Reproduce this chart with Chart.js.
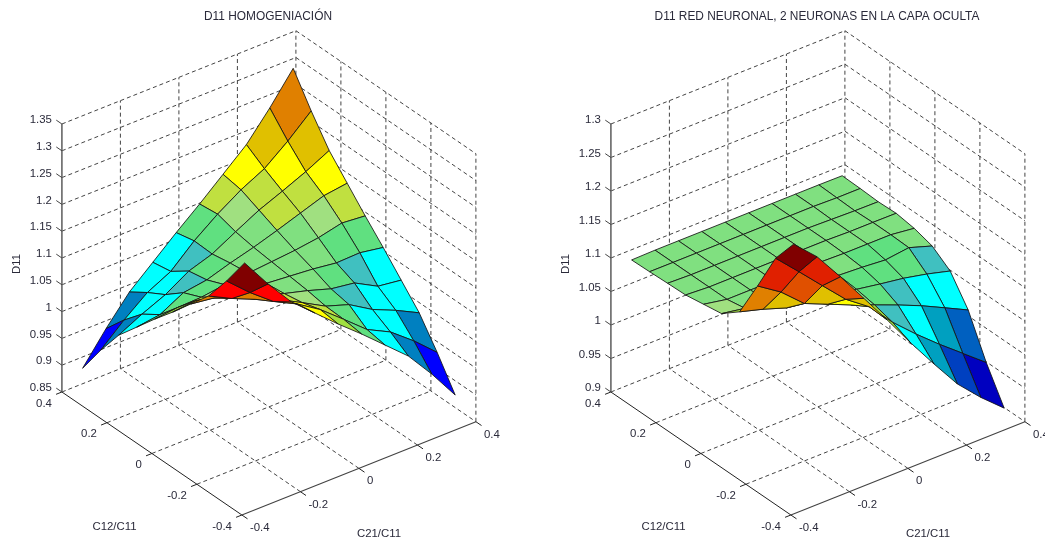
<!DOCTYPE html>
<html><head><meta charset="utf-8">
<style>html,body{margin:0;padding:0;background:#fff;overflow:hidden}
#a,#b{position:absolute;top:0}#a{left:0}#b{left:522px}</style>
<script src="https://cdn.jsdelivr.net/npm/chart.js@4"></script></head>
<body><canvas id="a" width="522" height="544"></canvas><canvas id="b" width="523" height="544"></canvas>
<script>
const gridC21=[-0.36,-0.28,-0.2,-0.12,-0.04,0.04,0.12,0.2,0.28,0.36];
const gridC12=[-0.36,-0.28,-0.2,-0.12,-0.04,0.04,0.12,0.2,0.28,0.36];
// rows: C12 ascending, columns: C21 ascending
const homogeneizacion=[
[1.300,1.2435,1.1925,1.1545,1.1165,1.0805,1.0425,1.0045,0.9535,0.897],
[1.2435,1.2045,1.1705,1.1485,1.1205,1.085,1.0485,1.0265,0.9925,0.9535],
[1.1925,1.1705,1.1515,1.1335,1.1105,1.0865,1.072,1.0455,1.0265,1.0045],
[1.1545,1.1485,1.1335,1.1185,1.1045,1.0925,1.0785,1.072,1.0485,1.0425],
[1.1165,1.1205,1.1105,1.1045,1.1005,1.0965,1.0925,1.0865,1.088,1.0805],
[1.0805,1.085,1.0865,1.0925,1.0965,1.1005,1.1045,1.1105,1.1205,1.1165],
[1.0425,1.0485,1.072,1.0785,1.0925,1.1045,1.1185,1.1335,1.1485,1.1545],
[1.0045,1.0265,1.0455,1.072,1.0865,1.1105,1.1335,1.1515,1.1705,1.1925],
[0.9535,0.9925,1.0265,1.0485,1.088,1.1205,1.1485,1.1705,1.2045,1.2435],
[0.897,0.9535,1.0045,1.0425,1.0805,1.1165,1.1545,1.1925,1.2435,1.300]];
const redNeuronal=[
[1.288,1.2554,1.2116,1.1655,1.1193,1.0713,1.0257,0.982,0.948,0.918],
[1.2487,1.2147,1.18,1.1457,1.1207,1.0834,1.052,1.0228,0.9954,0.968],
[1.189,1.166,1.135,1.12,1.105,1.091,1.077,1.062,1.045,1.0278],
[1.132,1.122,1.11,1.105,1.10,1.096,1.09,1.0846,1.077,1.0676],
[1.111,1.105,1.102,1.10,1.10,1.0985,1.0966,1.0936,1.098,1.0866],
[1.1066,1.10,1.10,1.10,1.10,1.10,1.099,1.099,1.099,1.0946],
[1.1021,1.10,1.10,1.10,1.10,1.10,1.10,1.099,1.099,1.0987],
[1.1012,1.10,1.10,1.10,1.10,1.10,1.10,1.099,1.098,1.0976],
[1.1001,1.10,1.10,1.10,1.10,1.10,1.10,1.10,1.099,1.099],
[1.0993,1.10,1.10,1.10,1.10,1.10,1.10,1.10,1.10,1.0997]];
const tickXY=[-0.4,-0.2,0,0.2,0.4];
const tickLabelsXY=['-0.4','-0.2','0','0.2','0.4'];
const ticksZ1=[0.85,0.9,0.95,1,1.05,1.1,1.15,1.2,1.25,1.3,1.35];
const ticksZ2=[0.9,0.95,1,1.05,1.1,1.15,1.2,1.25,1.3];
const labelsZ1=['0.85','0.9','0.95','1','1.05','1.1','1.15','1.2','1.25','1.3','1.35'];
const labelsZ2=['0.9','0.95','1','1.05','1.1','1.15','1.2','1.25','1.3'];
const title1='D11 HOMOGENIACIÓN';
const title2='D11 RED NEURONAL, 2 NEURONAS EN LA CAPA OCULTA';
const palette1=[[0,0,192],[0,0,255],[0,128,192],[0,255,255],[64,192,192],[96,224,128],[128,224,128],[160,224,128],[160,224,64],[192,224,64],[255,255,0],[224,192,0],[224,128,0],[255,0,0],[128,0,0]];
const palette2=[[0,0,192],[0,64,192],[0,96,192],[0,160,192],[0,255,255],[64,192,192],[96,224,128],[128,224,128],[160,224,128],[160,224,64],[255,255,0],[224,192,0],[224,128,0],[224,80,0],[224,32,0],[128,0,0]];

function jet(t){const c=v=>Math.max(0,Math.min(1,v))*255;
 return [c(Math.min(4*t-1.5,-4*t+4.5)),c(Math.min(4*t-0.5,-4*t+3.5)),c(Math.min(4*t+0.5,-4*t+2.5))];}
function shade(t,palette){const j=jet(t),w=t<.25?.3:1;let b=palette[0],d=1e12;
 for(const p of palette){const e=(p[0]-j[0])**2+(p[1]-j[1])**2+w*(p[2]-j[2])**2;if(e<d){d=e;b=p;}}
 return `rgb(${b[0]},${b[1]},${b[2]})`;}

function build(id,cfg){
 const P=(c21,c12,z)=>({x:cfg.ox+292.5*c21-225*c12,y:406.85-116.6*c21-153.75*c12-cfg.zPx*(z-cfg.zTicks[0])});
 const zLo=cfg.zTicks[0],zHi=cfg.zTicks[cfg.zTicks.length-1];
 const ds=[];
 const line=(pts,color,w,dash)=>ds.push({data:pts,borderColor:color,borderWidth:w,borderDash:dash||[],pointRadius:0,fill:false,tension:0,clip:false});
 const dash=[4,3],gc='#444';
 // walls and floor grid
 for(const z of cfg.zTicks){line([P(-.4,.4,z),P(.4,.4,z),P(.4,-.4,z)],gc,1,dash);}
 for(const t of tickXY){
  if(t>-.4)line([P(t,.4,zLo),P(t,.4,zHi)],gc,1,dash);
  if(t<.4)line([P(.4,t,zLo),P(.4,t,zHi)],gc,1,dash);
  if(t>-.4&&t<.4){
   line([P(t,-.4,zLo),P(t,.4,zLo)],gc,1,dash);
   line([P(-.4,t,zLo),P(.4,t,zLo)],gc,1,dash);
  }
 }
 // solid axes and tick marks
 line([P(-.4,.4,zLo),P(-.4,.4,zHi)],'#666',1.6);
 line([P(-.4,.4,zLo),P(-.4,-.4,zLo)],'#222',1);
 line([P(-.4,-.4,zLo),P(.4,-.4,zLo)],'#444',1.2);
 for(const t of tickXY){
  line([P(-.4,t,zLo),P(-.42,t,zLo)],'#222',1);
  line([P(t,-.4,zLo),P(t,-.425,zLo)],'#222',1);
 }
 for(const z of cfg.zTicks)line([P(-.4,.4,z),P(-.4,.425,z)],'#444',1);
 // surface
 const cells=[];const Z=cfg.z;
 for(let j=0;j<gridC12.length-1;j++)for(let i=0;i<gridC21.length-1;i++){
  const cx=(gridC21[i]+gridC21[i+1])/2,cy=(gridC12[j]+gridC12[j+1])/2;
  const cz=(Z[j][i]+Z[j][i+1]+Z[j+1][i]+Z[j+1][i+1])/4;
  cells.push({i,j,depth:193*cx+250.7*cy-0.607*cfg.zPx*cz});
 }
 cells.sort((a,b)=>b.depth-a.depth);
 for(const {i,j} of cells){
  const q=[[i,j],[i+1,j],[i+1,j+1],[i,j+1],[i,j]].map(([a,b])=>P(gridC21[a],gridC12[b],Z[b][a]));
  ds.push({data:q,borderColor:'rgba(20,20,20,.85)',borderWidth:1,pointRadius:0,tension:0,clip:false,
   fill:'shape',backgroundColor:shade((Z[j][i]-cfg.zMin)/(cfg.zMax-cfg.zMin),cfg.palette)});
 }
 ds.reverse();
 const texts={id:'axisText',afterDraw(ch){
  const c=ch.ctx,X=ch.scales.x,Y=ch.scales.y;
  const put=(s,x,y,al)=>{c.textAlign=al;c.fillText(s,x,y);};
  c.save();c.fillStyle='#2a2a3a';c.font='11.4px "Liberation Sans"';c.textBaseline='middle';
  const px=p=>({x:X.getPixelForValue(p.x),y:Y.getPixelForValue(p.y)});
  cfg.zTicks.forEach((z,k)=>{const p=px(P(-.4,.4,z));put(cfg.zLabels[k],p.x-10,p.y-4,'right');});
  tickXY.forEach((t,k)=>{
   const p=px(P(-.4,t,zLo));put(tickLabelsXY[k],p.x-10,p.y+11.5,'right');
   const q=px(P(t,-.4,zLo));put(tickLabelsXY[k],q.x+8,q.y+13,'left');
  });
  const o=cfg.ox-268.9;
  put('C12/C11',X.getPixelForValue(114.5+o),Y.getPixelForValue(527),'center');
  put('C21/C11',X.getPixelForValue(379+o),Y.getPixelForValue(534),'center');
  c.font='11.9px "Liberation Sans"';
  put(cfg.title,X.getPixelForValue(268+o),Y.getPixelForValue(16.5),'center');
  c.font='11.4px "Liberation Sans"';
  c.translate(X.getPixelForValue(17+o),Y.getPixelForValue(264));c.rotate(-Math.PI/2);put('D11',0,0,'center');
  c.restore();
 }};
 new Chart(document.getElementById(id),{type:'line',data:{datasets:ds},plugins:[texts],options:{
  responsive:false,animation:false,devicePixelRatio:1,events:[],
  layout:{padding:0},
  plugins:{legend:{display:false},tooltip:{enabled:false},title:{display:false}},
  scales:{x:{type:'linear',display:false,min:0,max:cfg.w},y:{type:'linear',display:false,reverse:true,min:0,max:544}}
 }});
}
build('a',{ox:268.9,w:522,z:homogeneizacion,zTicks:ticksZ1,zLabels:labelsZ1,zPx:536,zMin:0.897,zMax:1.30,title:title1,palette:palette1});
build('b',{ox:295.9,w:523,z:redNeuronal,zTicks:ticksZ2,zLabels:labelsZ2,zPx:670,zMin:0.918,zMax:1.288,title:title2,palette:palette2});
</script></body></html>
